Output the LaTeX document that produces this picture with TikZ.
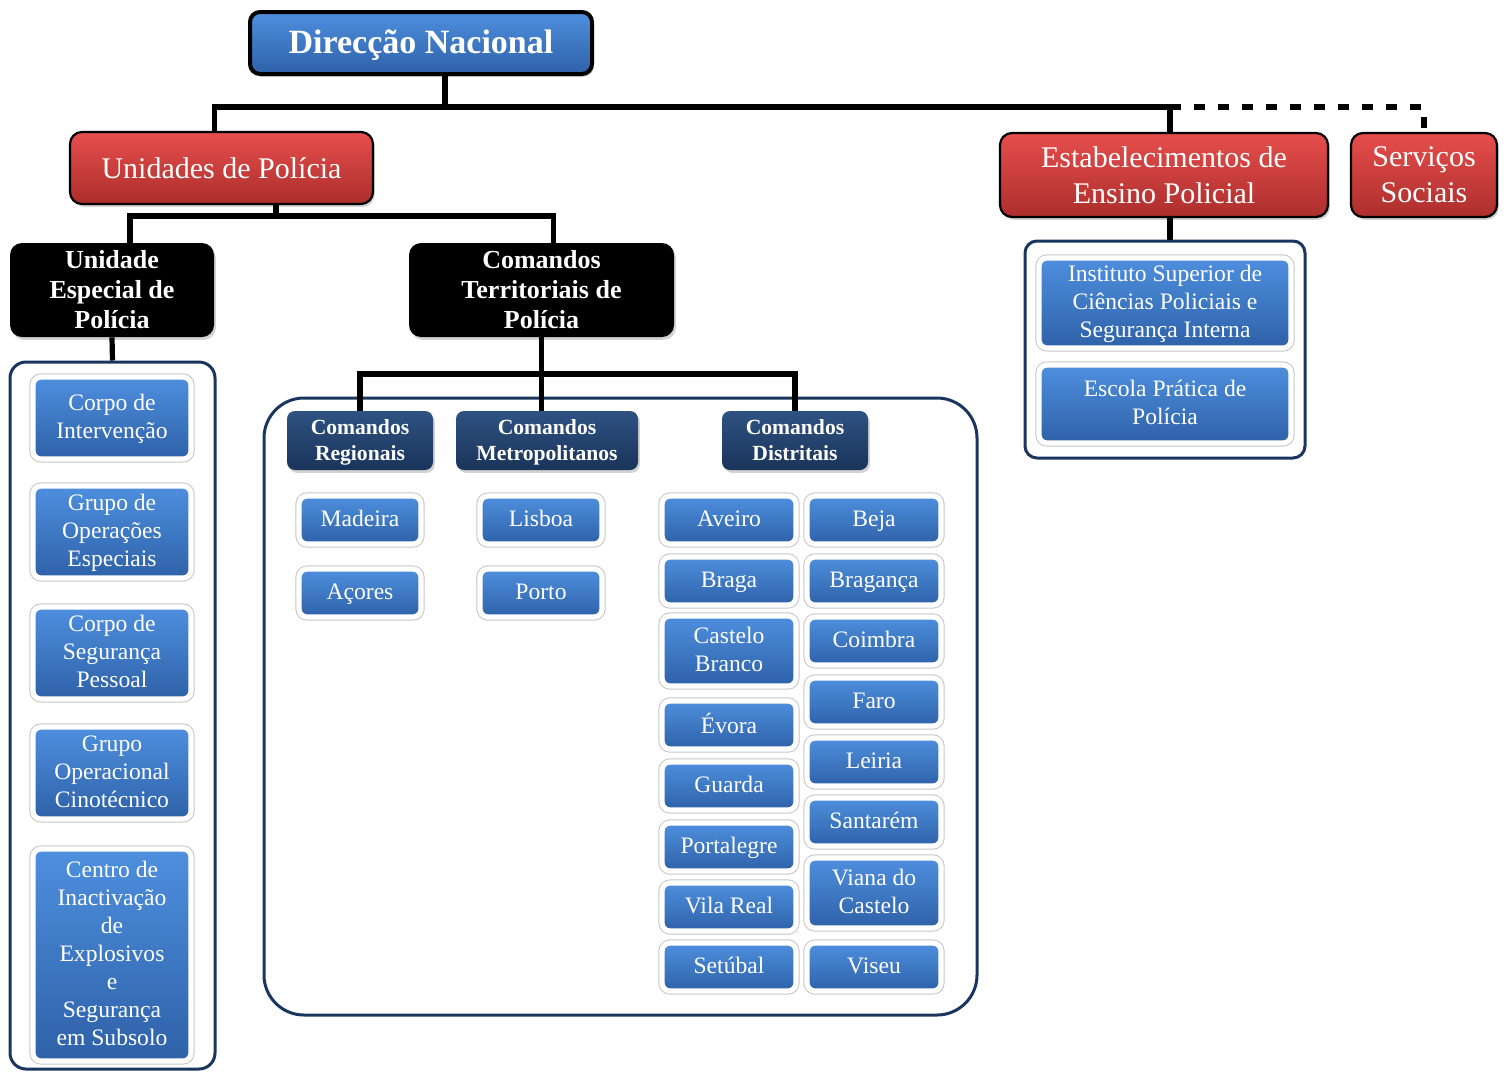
\documentclass[tikz,border=0pt]{standalone}
\usepackage{fontspec}
\setmainfont{Liberation Serif}
\usetikzlibrary{shadows}
\definecolor{bluetop}{RGB}{78,143,222}
\definecolor{bluebot}{RGB}{46,97,168}
\definecolor{redtop}{RGB}{230,78,76}
\definecolor{redbot}{RGB}{172,46,44}
\definecolor{navytop}{RGB}{46,82,130}
\definecolor{navybot}{RGB}{26,52,90}
\definecolor{framecol}{RGB}{26,54,94}

\tikzset{
  conn/.style={line width=2.6pt},
  softshadow/.style={drop shadow={opacity=0.35, shadow xshift=0.9pt, shadow yshift=-1.4pt}},
  topbox/.style={rounded corners=5pt, draw=black, line width=2pt, top color=bluetop, bottom color=bluebot,
    softshadow, font=\fontsize{17}{19}\selectfont\bfseries, minimum width=171pt, minimum height=31pt,
    text depth=1pt},
  redbox/.style={rounded corners=6pt, draw=black, line width=1.1pt, top color=redtop, bottom color=redbot,
    softshadow, font=\fontsize{15}{18}\selectfont, inner sep=1pt},
  blackbox/.style={rounded corners=6pt, fill=black, softshadow,
    font=\fontsize{13}{15}\selectfont\bfseries, inner sep=1pt},
  headbox/.style={rounded corners=4pt, top color=navytop, bottom color=navybot, softshadow,
    font=\fontsize{10.8}{13}\selectfont\bfseries, minimum height=29.5pt, inner sep=1pt, text depth=0.5pt},
  unitbox/.style={rounded corners=4pt, softshadow, preaction={draw=black!22, line width=3.6pt},
    draw=white, line width=2.6pt, top color=bluetop, bottom color=bluebot,
    font=\fontsize{11.8}{14}\selectfont, inner sep=1pt, text depth=1.5pt},
  framebox/.style={draw=framecol, line width=1.5pt, fill=white, rounded corners=8pt},
}

\begin{document}
\begin{tikzpicture}[x=0.5pt, y=-0.5pt, every node/.style={text=white, align=center}]
\useasboundingbox (0,0) rectangle (1504,1072);

% top levels
\node[topbox] (dn) at (421,43) {Direcção Nacional};
\node[redbox, minimum width=151.5pt, minimum height=36pt] (up) at (221.5,168) {Unidades de Polícia};
\node[redbox, minimum width=164pt, minimum height=42pt] (ep) at (1164,175) {Estabelecimentos de\\Ensino Policial};
\node[redbox, minimum width=73pt, minimum height=42pt] (ss) at (1424,175) {Serviços\\Sociais};
\node[blackbox, minimum width=102pt, minimum height=47pt] (ue) at (112,290) {Unidade\\Especial de\\Polícia};
\node[blackbox, minimum width=132.5pt, minimum height=47pt] (ct) at (541.5,290) {Comandos\\Territoriais de\\Polícia};

\coordinate (b1) at (445,107);
\coordinate (b2) at (276,216);
\coordinate (b3) at (541,374);
\draw[conn] (dn.south -| b1) -- (b1);
\draw[conn] ([xshift=-3.5pt]up.north) |- (b1) -| ([xshift=3pt]ep.north);
\draw[conn, dash pattern=on 5.5pt off 6.5pt] ([xshift=3pt]ep.north |- b1) -| (ss.north);
\draw[conn] (up.south -| b2) -- (b2);
\draw[conn] ([xshift=9pt]ue.north) |- (b2) -| ([xshift=6pt]ct.north);

% containers
\node[framebox, minimum width=102.5pt, minimum height=353.5pt] (fl) at (112.5,715.5) {};
\node[framebox, rounded corners=20pt, minimum width=356.5pt, minimum height=308.5pt] (fm) at (620.5,706.5) {};
\node[framebox, rounded corners=6pt, minimum width=140pt, minimum height=108.5pt] (fr) at (1165,349.5) {};
\draw[conn] (ue.south) -- (fl.north);
\draw[conn] ([xshift=3pt]ep.south) -- ([xshift=3pt]ep.south |- fr.north);

% Unidade Especial de Policia
\begin{scope}[every node/.append style={unitbox, minimum width=79pt}]
  \node[minimum height=41pt] (ci) at (112,418) {Corpo de\\Intervenção};
  \node[minimum height=46pt] (goe) at (112,532) {Grupo de\\Operações\\Especiais};
  \node[minimum height=46pt] (csp) at (112,653) {Corpo de\\Segurança\\Pessoal};
  \node[minimum height=46pt] (goc) at (112,773) {Grupo\\Operacional\\Cinotécnico};
  \node[minimum height=106pt] (cie) at (112,955) {Centro de\\Inactivação\\de\\Explosivos\\e\\Segurança\\em Subsolo};
\end{scope}

% Ensino Policial
\begin{scope}[every node/.append style={unitbox, minimum width=126pt}]
  \node[minimum height=45pt] (isc) at (1165,303) {Instituto Superior de\\Ciências Policiais e\\Segurança Interna};
  \node[minimum height=39pt] (epp) at (1165,404) {Escola Prática de\\Polícia};
\end{scope}

% Comandos Territoriais
\node[headbox, minimum width=73pt] (cr) at (360,440.5) {Comandos\\Regionais};
\node[headbox, minimum width=91pt] (cm) at (547,440.5) {Comandos\\Metropolitanos};
\node[headbox, minimum width=73pt] (cdi) at (795,440.5) {Comandos\\Distritais};
\draw[conn] (ct.south) -- (ct.south |- cm.north);
\draw[conn] (cr.north) |- (b3) -| (cdi.north);

\begin{scope}[every node/.append style={unitbox, minimum width=61pt, minimum height=24pt}]
  \node (mad) at (360,520) {Madeira};
  \node (aco) at (360,593) {Açores};
  \node (lis) at (541,520) {Lisboa};
  \node (por) at (541,593) {Porto};
\end{scope}

\begin{scope}[every node/.append style={unitbox, minimum width=67pt, minimum height=24pt}]
  \node (ave) at (729,520) {Aveiro};
  \node (bra) at (729,581) {Braga};
  \node[minimum height=35pt] (cbr) at (729,651) {Castelo\\Branco};
  \node (evo) at (729,725) {Évora};
  \node (gua) at (729,786) {Guarda};
  \node (ptl) at (729,847) {Portalegre};
  \node (vre) at (729,907) {Vila Real};
  \node (set) at (729,967) {Setúbal};
  \node (bej) at (874,520) {Beja};
  \node (brg) at (874,581) {Bragança};
  \node (coi) at (874,641) {Coimbra};
  \node (far) at (874,702) {Faro};
  \node (lei) at (874,762) {Leiria};
  \node (san) at (874,822) {Santarém};
  \node[minimum height=35pt] (vca) at (874,893) {Viana do\\Castelo};
  \node (vis) at (874,967) {Viseu};
\end{scope}

\end{tikzpicture}
\end{document}
